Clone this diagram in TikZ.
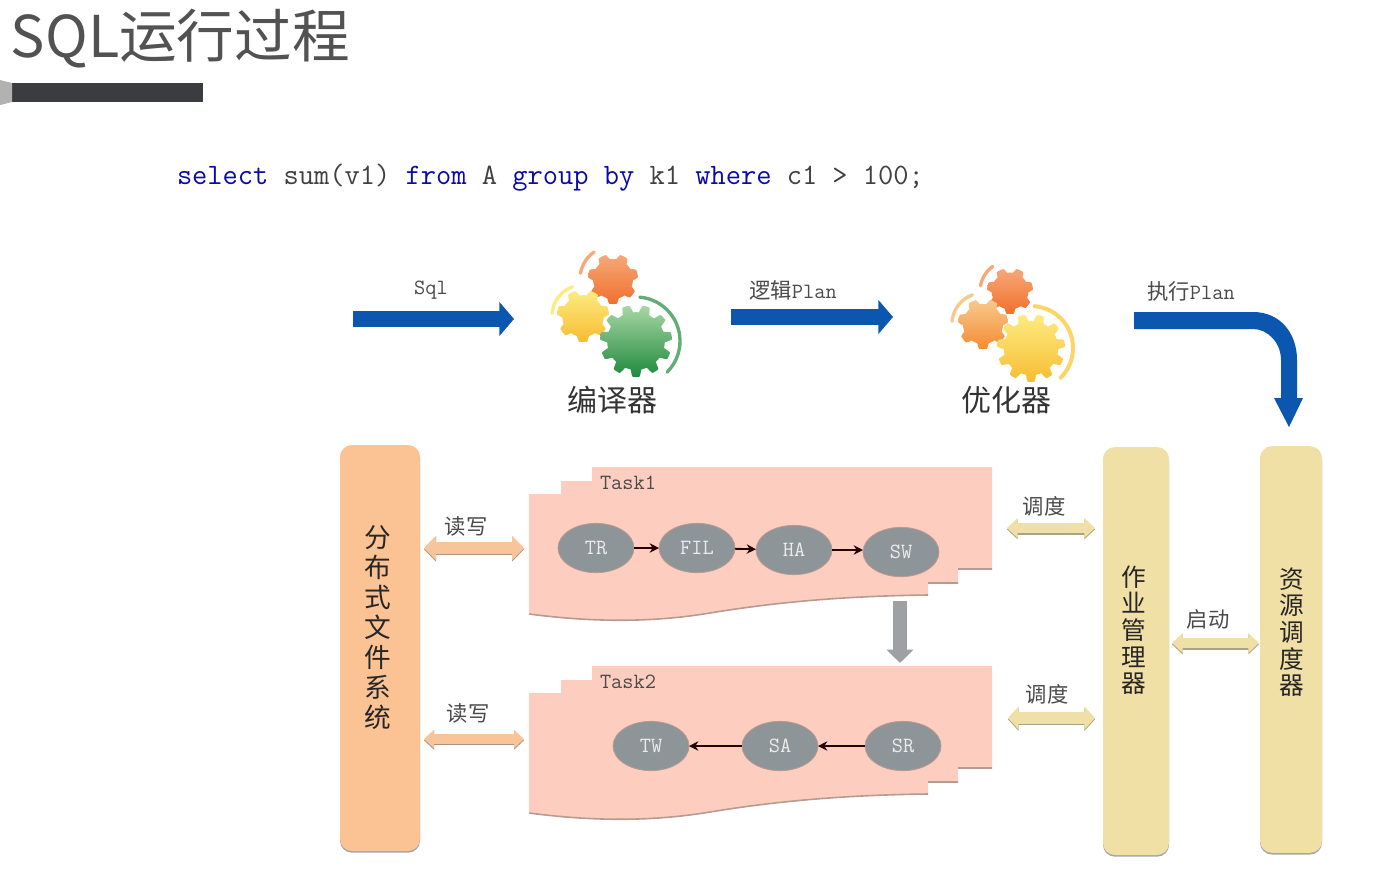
\documentclass[tikz,border=0pt]{standalone}
\usepackage{fontspec}
\usetikzlibrary{arrows.meta,shapes.geometric,shadings,shadows}
\newfontfamily\cjk{Noto Sans CJK SC}
\newcommand{\monoa}{\ttfamily\fontsize{16.3}{18}\selectfont}
\newcommand{\cjka}{\cjk\fontsize{16}{18}\selectfont}
\definecolor{arrowblue}{HTML}{0B56AE}
\definecolor{taskfill}{HTML}{FDCDC0}
\definecolor{taskedge}{HTML}{B89A90}
\definecolor{nodegray}{HTML}{8E9599}
\definecolor{downgray}{HTML}{9EA1A3}
\definecolor{barorange}{HTML}{FBC393}
\definecolor{baryellow}{HTML}{F1E0A6}
\definecolor{arroworange}{HTML}{F8C49A}
\definecolor{arrowyellow}{HTML}{EFE0A8}
\definecolor{rimorange}{HTML}{A8957F}
\definecolor{rimyellow}{HTML}{A9A285}
\definecolor{labelgray}{HTML}{4A4A4A}
\definecolor{kw}{HTML}{0A0AA8}
\definecolor{ruleink}{HTML}{3A3C40}
\definecolor{gearredtop}{HTML}{F7A878}
\definecolor{gearredbot}{HTML}{F0702C}
\definecolor{gearyeltop}{HTML}{FCEB80}
\definecolor{gearyelbot}{HTML}{F8BC34}
\definecolor{geargrntop}{HTML}{A8D6A4}
\definecolor{geargrnbot}{HTML}{1F8A3C}
\definecolor{gearorgtop}{HTML}{F9C88C}
\definecolor{gearorgbot}{HTML}{F48C34}
\newcommand{\gear}[6]{% cx cy R teeth top bottom
  \shade[top color=#5,bottom color=#6]
    plot[domain=0:360,samples=289,variable=\t]
    ({#1+#3*(0.9+0.1*max(-1,min(1,2.2*cos(#4*\t+90))))*cos(\t)},{#2+#3*(0.9+0.1*max(-1,min(1,2.2*cos(#4*\t+90))))*sin(\t)}) -- cycle;}
\newcommand{\gearbow}[7]{% cx cy r start end colour width
  \draw[#6,line width=#7,line cap=round] ({#1+#3*cos(#4)},{#2+#3*sin(#4)}) arc[start angle=#4,end angle=#5,radius=#3];}
\tikzset{
  every node/.style={inner sep=0pt,outer sep=0pt},
  flow/.style={arrowblue,line width=12.5pt,-{Triangle[width=25pt,length=11pt]}},
  downflow/.style={downgray,line width=10.5pt,-{Triangle[width=19.5pt,length=10pt]}},
  rwa/.style={line width=9pt,{Triangle[width=18pt,length=9pt]}-{Triangle[width=18pt,length=9pt]}},
  rwb/.style={line width=7pt,{Triangle[width=13.5pt,length=7.5pt]}-{Triangle[width=13.5pt,length=7.5pt]}},
  scha/.style={line width=8pt,{Triangle[width=14.5pt,length=8pt]}-{Triangle[width=14.5pt,length=8pt]}},
  schb/.style={line width=8.5pt,{Triangle[width=17pt,length=8pt]}-{Triangle[width=17pt,length=8pt]}},
  taskbody/.style={fill=taskfill},
  taskrim/.style={draw=taskedge,line width=1.2pt},
  opnode/.style={ellipse,fill=nodegray,draw=taskedge,line width=.6pt,minimum width=57pt,minimum height=37pt,text=white!92!black,font=\monoa},
  link/.style={black!85!red,line width=1.4pt,-{Stealth[length=7pt,width=7pt]}},
  bar/.style={rounded corners=9pt,drop shadow={shadow xshift=0pt,shadow yshift=-1.3pt,opacity=.35,fill=black}},
  vtext/.style={align=center,text=black!85},
  captext/.style={text=labelgray,font=\cjka},
  lab/.style={text=labelgray},
  gearname/.style={text=black!80,font=\cjk\fontsize{22.5}{24}\selectfont}
}
\newcommand{\taskshape}[1]{%
  \begin{scope}[yshift=#1*-0.75pt]
  \fill[taskbody] (592,467) -- (992,467) -- (992,569) -- (958,569) -- (958,583) -- (928,583) -- (928,595)
    .. controls (845,596) and (777,602) .. (710,613) .. controls (650,623) and (590,622) .. (529,614)
    -- (529,494) -- (561,494) -- (561,481) -- (592,481) -- cycle;
  \draw[taskrim] (992,569) -- (958,569) (958,583) -- (928,583) (928,595)
    .. controls (845,596) and (777,602) .. (710,613) .. controls (650,623) and (590,622) .. (529,614);
  \end{scope}}
\begin{document}
\begin{tikzpicture}[x=0.75pt,y=-0.75pt]
\useasboundingbox (0,0) rectangle (1400,883);
\fill[white] (0,0) rectangle (1400,883);
% title
\node[anchor=base west,text=black!68,font=\cjk\fontsize{43.2}{48}\selectfont] (title) at (11,57) {SQL运行过程};
\fill[ruleink] (12,83) rectangle (203,102);
\fill[black!30] (0,80) -- (12,83) -- (12,102) -- (0,105) -- cycle;
% code
\node[anchor=base west,text=black!75,font=\ttfamily\fontsize{22.2}{26}\selectfont] (code) at (177,184)
 {\textcolor{kw}{select} sum(v1) \textcolor{kw}{from} A \textcolor{kw}{group by} k1 \textcolor{kw}{where} c1 > 100;};
% compiler gears
\gearbow{613}{279}{33}{190}{235}{gearredtop}{2.5pt}
\gearbow{583}{316}{31}{185}{250}{gearyeltop}{2.5pt}
\gear{613}{279}{25}{7}{gearredtop}{gearredbot}
\gear{583}{316}{26}{7}{gearyeltop}{gearyelbot}
\gear{636}{341}{36}{11}{geargrntop}{geargrnbot}
\gearbow{636}{341}{44}{-85}{45}{geargrnbot!70!white}{2.5pt}
% optimizer gears
\gearbow{1010}{291}{30}{190}{235}{gearredtop}{2.5pt}
\gearbow{983}{324}{31}{185}{250}{gearorgtop}{2.5pt}
\gearbow{1031}{348}{42}{-85}{45}{gearyeltop!80!orange}{3pt}
\gear{1010}{291}{23}{7}{gearredtop}{gearredbot}
\gear{983}{324}{25}{7}{gearorgtop}{gearorgbot}
\gear{1031}{348}{34}{11}{gearyeltop}{gearyelbot}
\node[gearname] (compiler) at (612,400) {编译器};
\node[gearname] (optimizer) at (1006,400) {优化器};
% flow arrows
\coordinate (sqlA) at (353,319); \coordinate (sqlB) at (514,319);
\coordinate (logA) at (731,317); \coordinate (logB) at (893,317);
\coordinate (runB) at (1289,427);
\draw[flow] (sqlA) -- (sqlB);
\draw[flow] (logA) -- (logB);
\fill[arrowblue] (1134,312) -- (1253,312) .. controls (1280,312) and (1297,333) .. (1297,360) -- (1297,398) -- (1303,398) -- (runB) -- (1274,398) -- (1281,398) -- (1281,360) .. controls (1281,343) and (1268,329) .. (1253,329) -- (1134,329) -- cycle;
\node[lab,font=\monoa] (sqlt) at (431,290) {Sql};
\node[lab] (logt) at (793,290) {{\cjka 逻辑}{\monoa Plan}};
\node[lab] (runt) at (1191,291) {{\cjka 执行}{\monoa Plan}};
% bars
\node[bar,fill=barorange,minimum width=60pt,minimum height=304.5pt] (dfs) at (380,648) {};
\node[bar,fill=baryellow,minimum width=49.5pt,minimum height=306pt] (job) at (1136,651) {};
\node[bar,fill=baryellow,minimum width=46.5pt,minimum height=305pt] (res) at (1291,649.5) {};
\node[vtext,font=\cjk\fontsize{20}{22.5}\selectfont] (dfst) at (378,628) {分\\布\\式\\文\\件\\系\\统};
\node[vtext,font=\cjk\fontsize{18.5}{20}\selectfont] (jobt) at (1134,630) {作\\业\\管\\理\\器};
\node[vtext,font=\cjk\fontsize{18.5}{20}\selectfont] (rest) at (1292,632) {资\\源\\调\\度\\器};
% tasks
\taskshape{0}
\taskshape{199}
\node[anchor=west,lab,font=\monoa] (t1) at (600,483) {Task1};
\node[anchor=west,lab,font=\monoa] (t2) at (600,682) {Task2};
\node[opnode] (tr) at (596,548) {TR};
\node[opnode] (fil) at (697,548) {FIL};
\node[opnode] (ha) at (794,550) {HA};
\node[opnode] (sw) at (901,552) {SW};
\node[opnode] (tw) at (651,746) {TW};
\node[opnode] (sa) at (780,746) {SA};
\node[opnode] (sr) at (903,746) {SR};
\draw[link] (tr) -- (fil);
\draw[link] (fil) -- (ha);
\draw[link] (ha.east) -- (ha.east -| sw.west);
\draw[link] (sr) -- (sa);
\draw[link] (sa) -- (tw);
\coordinate (downA) at (900,601); \coordinate (downB) at (900,663);
\draw[downflow] (downA) -- (downB);
% double arrows
\coordinate (r1a) at (424,548); \coordinate (r1b) at (524,548);
\coordinate (r2a) at (424,739); \coordinate (r2b) at (524,739);
\coordinate (s1a) at (1007,528); \coordinate (s1b) at (1095,528);
\coordinate (s2a) at (1008,718); \coordinate (s2b) at (1095,718);
\coordinate (s3a) at (1172,643); \coordinate (s3b) at (1259,643);
\draw[rwa,rimorange] ([yshift=-1pt]r1a) -- ([yshift=-1pt]r1b);
\draw[rwa,arroworange] (r1a) -- (r1b);
\draw[rwb,rimorange] ([yshift=-1pt]r2a) -- ([yshift=-1pt]r2b);
\draw[rwb,arroworange] (r2a) -- (r2b);
\draw[scha,rimyellow] ([yshift=-1pt]s1a) -- ([yshift=-1pt]s1b);
\draw[scha,arrowyellow] (s1a) -- (s1b);
\draw[schb,rimyellow] ([yshift=-1pt]s2a) -- ([yshift=-1pt]s2b);
\draw[schb,arrowyellow] (s2a) -- (s2b);
\draw[scha,rimyellow] ([yshift=-1pt]s3a) -- ([yshift=-1pt]s3b);
\draw[scha,arrowyellow] (s3a) -- (s3b);
\node[captext] (rwt1) at (466,526) {读写};
\node[captext] (rwt2) at (468,713) {读写};
\node[captext] (st1) at (1044,506) {调度};
\node[captext] (st2) at (1047,694) {调度};
\node[captext] (st3) at (1208,619) {启动};
\end{tikzpicture}
\end{document}
